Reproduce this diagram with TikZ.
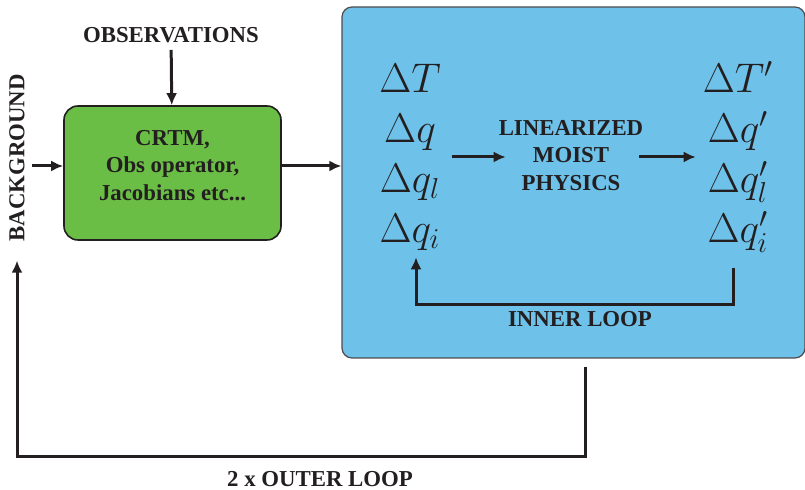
\documentclass[tikz,border=0pt]{standalone}
\usepackage[no-math]{fontspec}
\setmainfont{Liberation Serif}
\usetikzlibrary{arrows.meta}

\definecolor{boxgreen}{RGB}{106,189,69}
\definecolor{boxblue}{RGB}{110,193,233}
\definecolor{ink}{RGB}{35,31,32}

\tikzset{>={Latex[length=6pt,width=5.5pt]}}
\tikzset{
  lbl/.style={font=\fontsize{11.4}{13.6}\selectfont\bfseries, text=ink},
  flow/.style={->, line width=1.5pt, draw=ink},
  mathcol/.style={align=center, font=\fontsize{20}{25}\selectfont, text=ink}
}

\begin{document}
\begin{tikzpicture}[x=0.5pt, y=-0.5pt]
\useasboundingbox (0,0) rectangle (805,490);

% increment box
\node[draw=ink!80, line width=0.6pt, fill=boxblue, rounded corners=5pt,
      minimum width=231.5pt, minimum height=175.5pt] (inc) at (573.5,182.5) {};

% forward model box
\node[draw=ink, line width=0.8pt, fill=boxgreen, rounded corners=7pt,
      minimum width=108.5pt, minimum height=67pt] (crtm) at (172.5,173) {};
\node[lbl, align=center] (crtmtxt) at (172.5,165.5) {CRTM,\\Obs operator,\\Jacobians etc...};

\node[lbl] (obs) at (171,35) {OBSERVATIONS};
\node[lbl, rotate=90] (bg) at (17,158) {BACKGROUND};

\node[mathcol] (before) at (410,157) {$\Delta T$\\ $\Delta q$\\ $\Delta q_l$\\ $\Delta q_i$};
\node[mathcol] (after) at (738,157) {$\Delta T'$\\ $\Delta q'$\\ $\Delta q_l'$\\ $\Delta q_i'$};
\node[lbl, align=center] (phys) at (571,155.5) {LINEARIZED\\MOIST\\PHYSICS};

\draw[flow] (obs) -- (crtm);
\draw[flow] ([yshift=3.5pt]crtm.west -| bg.south) -- ([yshift=3.5pt]crtm.west);
\draw[flow] ([yshift=3.5pt]crtm.east) -- ([yshift=3.5pt]crtm.east -| inc.west);
\draw[flow, shorten <=2pt, shorten >=-7pt] (before.east) -- (before.east -| phys.west);
\draw[flow, shorten <=-5.5pt] (after.west -| phys.east) -- (after.west);

% inner loop
\coordinate (innerbend) at (575,305);
\draw[flow] ([xshift=-2.5pt,yshift=-4pt]after.south) |- (innerbend) -| ([xshift=3pt]before.south);
\node[lbl] (innerlbl) at (580,319) {INNER LOOP};

% outer loop
\coordinate (outerbend) at (300,457);
\draw[flow] ([xshift=5.75pt,yshift=-4pt]inc.south) |- (outerbend) -| ([yshift=-6pt]bg.west);
\node[lbl] (outerlbl) at (320,479) {2 x OUTER LOOP};

\end{tikzpicture}
\end{document}
